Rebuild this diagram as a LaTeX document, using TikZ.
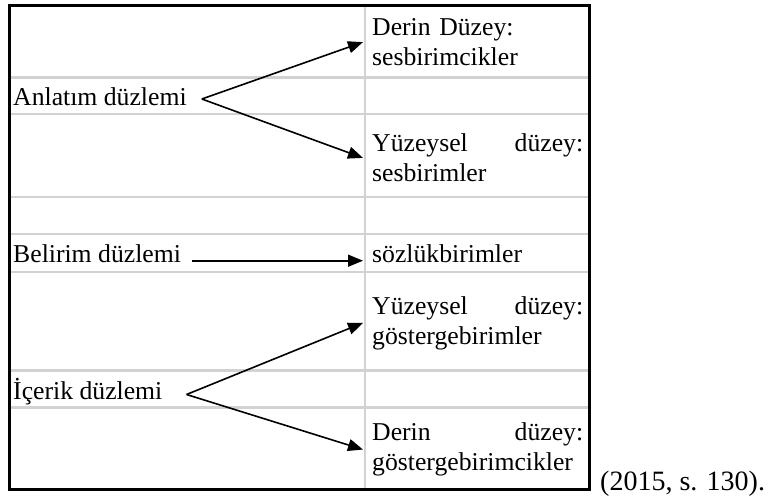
\documentclass[tikz,border=0pt]{standalone}
\usepackage{fontspec}
\setmainfont{Liberation Serif}
\usetikzlibrary{arrows.meta}
\definecolor{gridgray}{RGB}{210,210,210}

\begin{document}
\begin{tikzpicture}[
x=1pt, y=-1pt,
font=\fontsize{25.7}{30}\selectfont,
duzlem/.style={anchor=base west, inner sep=0pt},
duzey/.style={anchor=base west, inner xsep=9pt, inner ysep=0pt, text width=211pt, align=left},
arr/.style={-{Triangle[length=15pt,width=12pt]}, line width=1.6pt}]
\useasboundingbox (0,0) rectangle (769,496);
% table
\foreach \y in {77.5,114,197,234,272,370.5,407.5}
  \draw[gridgray, line width=2.5pt] (9.5,\y) -- (589,\y);
\draw[gridgray, line width=2.5pt] (365,5.5) -- (365,489);
\draw[line width=3pt] (9.5,5.5) rectangle (589,489);
% left column
\node[duzlem] (anlatim) at (13,105) {Anlatım düzlemi};
\node[duzlem] (belirim) at (13,262.7) {Belirim düzlemi};
\node[duzlem] (icerik) at (13,399.5) {İçerik düzlemi};
% right column
\node[duzey] (sesderin) at (363,35.5) {Derin Düzey:\\sesbirimcikler};
\node[duzey] (sesyuzey) at (363,151.7) {Yüzeysel\hfill düzey:\\sesbirimler};
\node[duzey] (sozluk) at (363,262.7) {sözlükbirimler};
\node[duzey] (gosyuzey) at (363,314) {Yüzeysel\hfill düzey:\\göstergebirimler};
\node[duzey] (gosderin) at (363,440.7) {Derin\hfill düzey:\\göstergebirimcikler};
\node[duzlem, font=\fontsize{28}{32}\selectfont] (kaynak) at (600,490.5) {(2015, s. 130).};
% arrows
\draw[arr] ([xshift=15pt,yshift=6pt]anlatim.base east) -- (sesderin.west);
\draw[arr] ([xshift=15pt,yshift=6pt]anlatim.base east) -- (sesyuzey.west);
\draw[arr] ([xshift=11pt,yshift=2pt]belirim.base east) -- ([yshift=2pt]sozluk.base west);
\draw[arr] ([xshift=24pt,yshift=5pt]icerik.base east) -- (gosyuzey.west);
\draw[arr] ([xshift=24pt,yshift=5pt]icerik.base east) -- (gosderin.west);
\end{tikzpicture}
\end{document}
